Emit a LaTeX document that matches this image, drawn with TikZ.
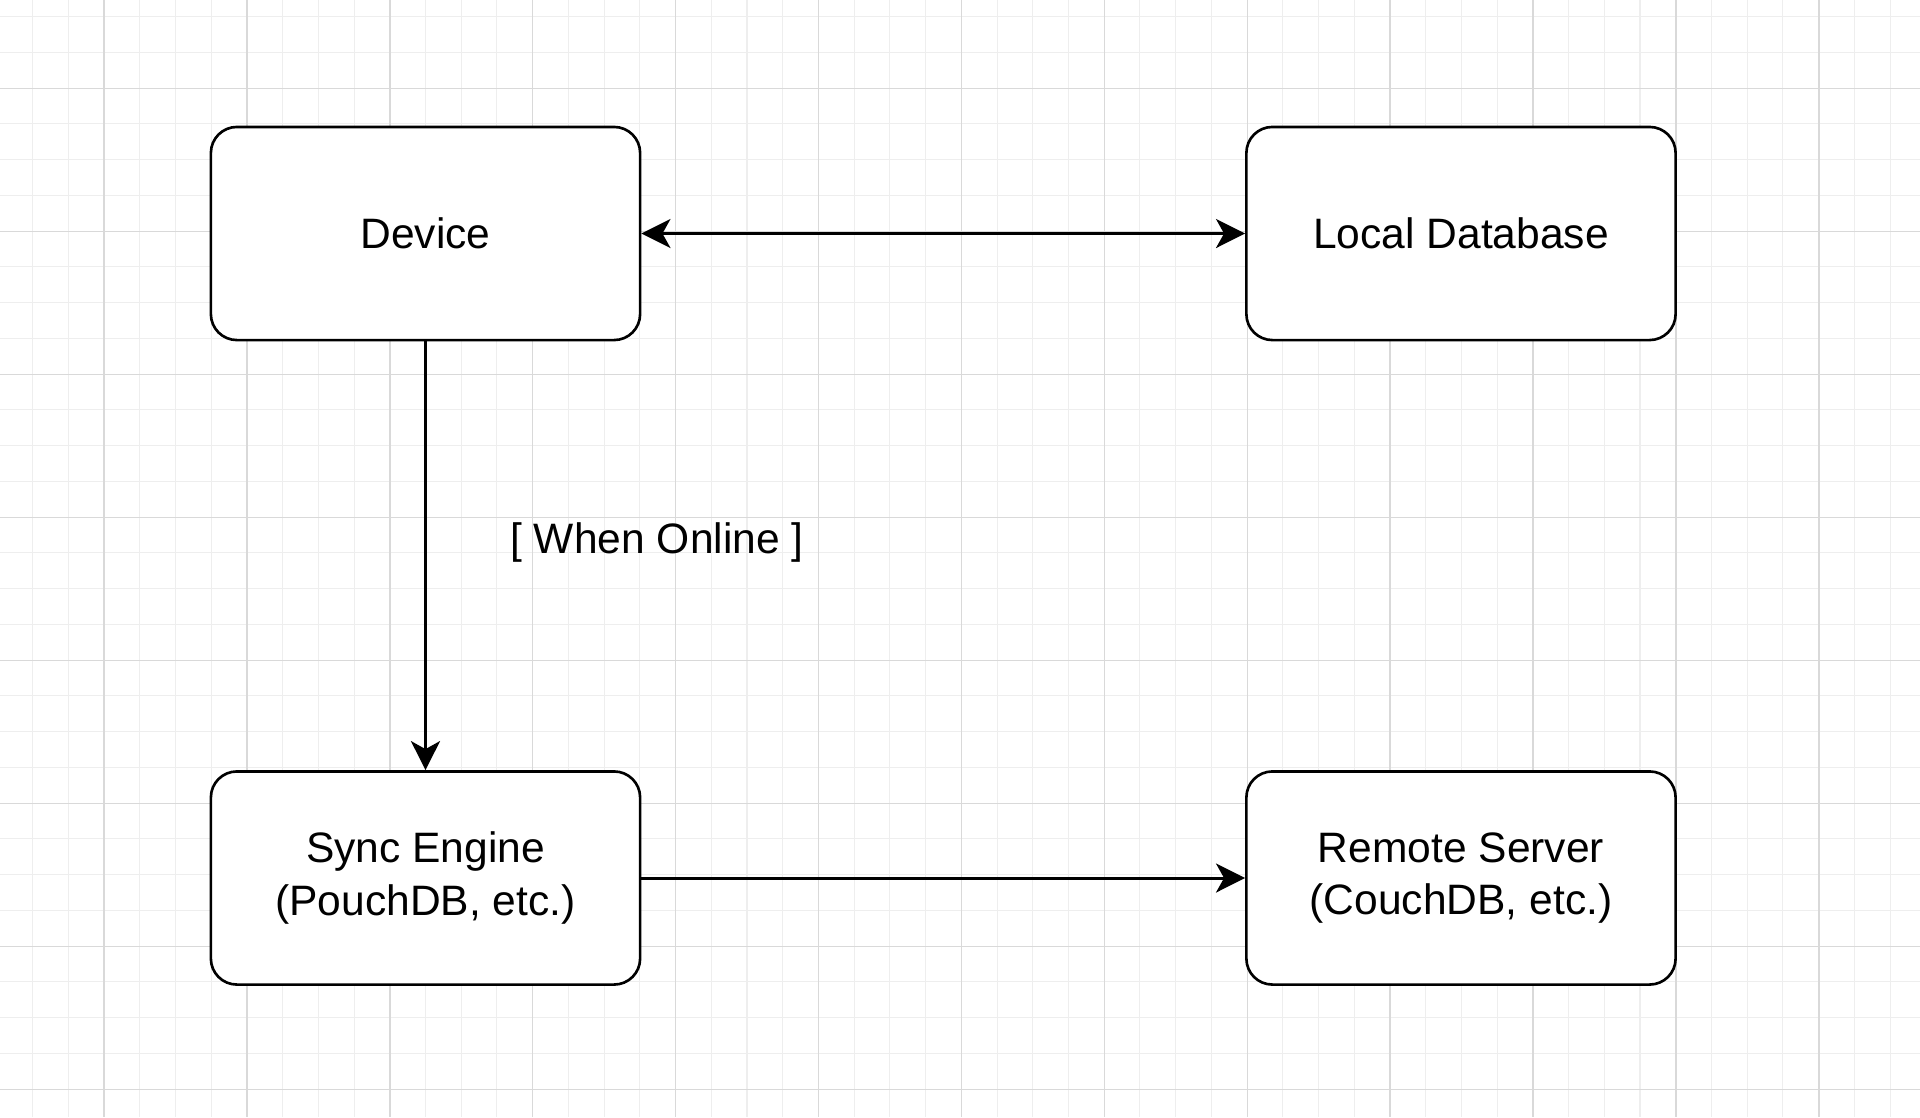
\documentclass[tikz,border=0pt]{standalone}
\usepackage{fontspec}
\setmainfont{Liberation Sans}
\usetikzlibrary{arrows.meta}
\definecolor{minorg}{HTML}{EEEEEE}
\definecolor{majorg}{HTML}{D9D9D9}
\begin{document}
\begin{tikzpicture}[x=0.01cm,y=-0.01cm,
  box/.style={draw=black, line width=0.75pt, rounded corners=0.26cm, fill=white,
    minimum width=4.29cm, minimum height=2.13cm, align=center, inner sep=0pt,
    font=\fontsize{12.1}{15}\selectfont},
  lbl/.style={inner sep=0pt, font=\fontsize{12.1}{15}\selectfont},
  conn/.style={line width=0.85pt, -{Stealth[length=0.29cm,width=0.29cm,inset=0.08cm]}},
  biconn/.style={line width=0.85pt, {Stealth[length=0.29cm,width=0.29cm,inset=0.08cm]}-{Stealth[length=0.29cm,width=0.29cm,inset=0.08cm]}},
  minorgrid/.style={draw=minorg, line width=0.3pt},
  majorgrid/.style={draw=majorg, line width=0.4pt}]
\useasboundingbox (0,0) rectangle (1920,1117);
\fill[white] (0,0) rectangle (1920,1117);
% grid
\foreach \i in {0,...,52} { \draw[minorgrid] ({32.6+35.72*\i},0) -- ({32.6+35.72*\i},1117); }
\foreach \j in {0,...,30} { \draw[minorgrid] (0,{16.6+35.75*\j}) -- (1920,{16.6+35.75*\j}); }
\foreach \i in {0,...,12} { \draw[majorgrid] ({104+142.9*\i},0) -- ({104+142.9*\i},1117); }
\foreach \j in {0,...,7} { \draw[majorgrid] (0,{88.2+143*\j}) -- (1920,{88.2+143*\j}); }
% nodes
\node[box] (dev) at (425.5,233.5) {Device};
\node[box] (ldb) at (1461,233.5) {Local Database};
\node[box] (sync) at (425.5,878) {Sync Engine\\(PouchDB, etc.)};
\node[box] (rem) at (1461,878) {Remote Server\\(CouchDB, etc.)};
\node[lbl] (online) at (657,542) {[ When Online ]};
% connectors
\draw[biconn] (dev) -- (ldb);
\draw[conn] (dev) -- (sync);
\draw[conn] (sync) -- (rem);
\end{tikzpicture}
\end{document}
